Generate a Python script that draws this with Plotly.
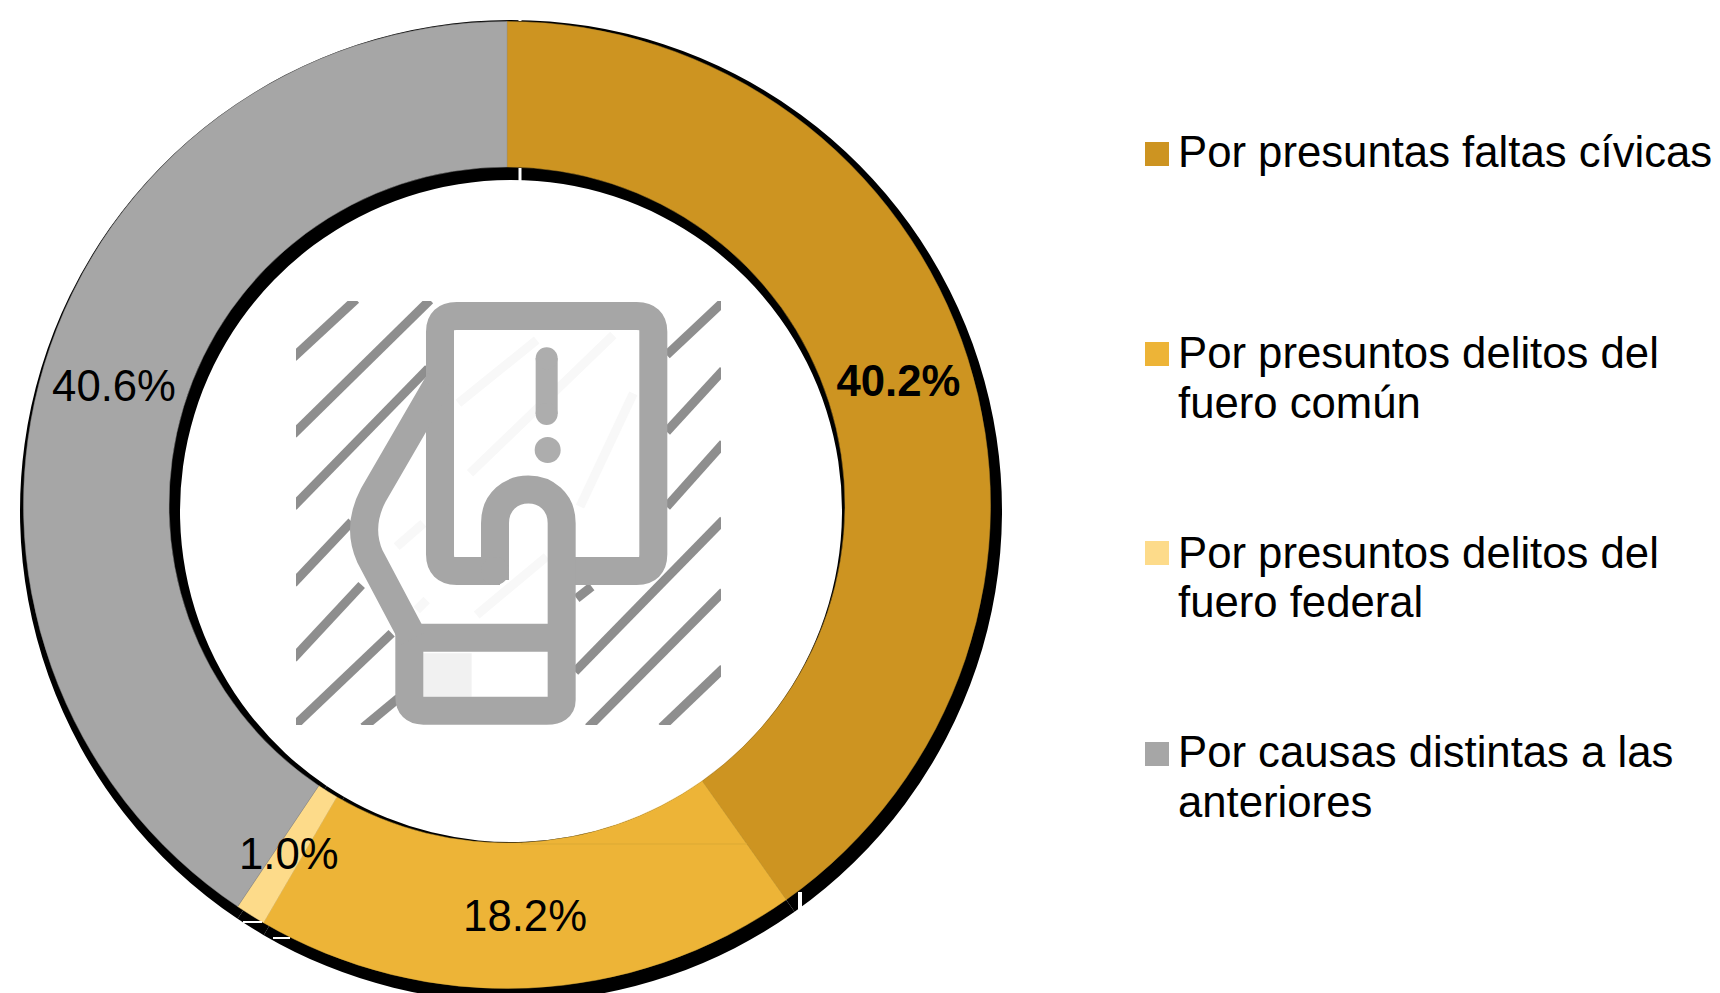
import math

import plotly.graph_objects as go

categorias = [
    "Por presuntas faltas cívicas",
    "Por presuntos delitos del fuero común",
    "Por presuntos delitos del fuero federal",
    "Por causas distintas a las anteriores",
]
valores = [40.2, 18.2, 1.0, 40.6]
colores = ["#cd9421", "#edb437", "#fddb8a", "#a6a6a6"]
bordes = ["#b98a2b", "#dcaa36", "#fddb8a", "#8f8f8f"]
leyenda = [
    ["Por presuntas faltas cívicas"],
    ["Por presuntos delitos del", "fuero común"],
    ["Por presuntos delitos del", "fuero federal"],
    ["Por causas distintas a las", "anteriores"],
]
leyenda_y = [[151], [352, 403], [552, 601], [751, 801]]
cuadro_y = [154, 354, 553, 754]

W, H = 1720, 1020
FUENTE = "Liberation Sans, Arial, sans-serif"
GRIS = "#a6a6a6"
CX, CY, R, R_IN = 507, 505, 483.5, 338


def fx(x):
    return x / W


def fy(y):
    return 1 - y / H


def dominio(cx, cy, r):
    return dict(x=[fx(cx - r), fx(cx + r)], y=[fy(cy + r), fy(cy - r)])


# el icono se trazo sobre un recorte 3x de la imagen
def icono_path(puntos):
    out = []
    for cmd, *coords in puntos:
        vals = []
        for i in range(0, len(coords), 2):
            vals.append(f"{fx(280 + coords[i] / 3):.5f},{fy(290 + coords[i + 1] / 3):.5f}")
        out.append(cmd + " " + " ".join(vals))
    return " ".join(out)


def trazo(puntos, color=GRIS, ancho=28):
    return dict(
        type="path",
        xref="paper",
        yref="paper",
        path=icono_path(puntos),
        line=dict(color=color, width=ancho),
        fillcolor="rgba(0,0,0,0)",
        layer="above",
    )


def linea(x0, y0, x1, y1, color, ancho):
    return dict(
        type="line",
        xref="paper",
        yref="paper",
        x0=fx(x0),
        y0=fy(y0),
        x1=fx(x1),
        y1=fy(y1),
        line=dict(color=color, width=ancho),
        layer="above",
    )


def caja(x0, y0, x1, y1, color):
    return dict(
        type="rect",
        xref="paper",
        yref="paper",
        x0=fx(x0),
        y0=fy(y0),
        x1=fx(x1),
        y1=fy(y1),
        fillcolor=color,
        line=dict(width=0),
        layer="above",
    )


def punto(zx, zy, r, color):
    x, y = 280 + zx / 3, 290 + zy / 3
    return dict(
        type="circle",
        xref="paper",
        yref="paper",
        x0=fx(x - r),
        y0=fy(y + r),
        x1=fx(x + r),
        y1=fy(y - r),
        fillcolor=color,
        line=dict(width=0),
        layer="above",
    )


def zlinea(a, b, c, d, color="#8e8e8e", ancho=9):
    return linea(280 + a / 3, 290 + b / 3, 280 + c / 3, 290 + d / 3, color, ancho)


fig = go.Figure()

# anillo negro desplazado que asoma detras de la dona
fig.add_trace(
    go.Pie(
        values=valores,
        sort=False,
        direction="clockwise",
        hole=331 / 491,
        domain=dominio(511, 511, 491),
        marker=dict(colors=["#000000"] * 4, line=dict(width=0)),
        textinfo="none",
        hoverinfo="skip",
        showlegend=False,
    )
)

etiquetas = [f"{v:.1f}%" for v in valores]
etiqueta_chica = etiquetas[2]
etiquetas[0] = f"<b>{etiquetas[0]}</b>"
etiquetas[2] = ""  # plotly la saca de su sitio; va como anotacion

fig.add_trace(
    go.Pie(
        labels=categorias,
        values=valores,
        sort=False,
        direction="clockwise",
        hole=R_IN / R,
        domain=dominio(CX, CY, R),
        marker=dict(colors=colores, line=dict(color=bordes, width=0.5)),
        text=etiquetas,
        textinfo="text",
        textposition="inside",
        insidetextorientation="horizontal",
        textfont=dict(family=FUENTE, size=43.7, color="#000000"),
        showlegend=False,
    )
)

formas = [
    # cortes blancos del anillo negro
    linea(520, 14, 520, 21, "#ffffff", 3),
    linea(520, 168, 520, 184, "#ffffff", 3),
    linea(800, 892, 800, 910, "#ffffff", 4),
    linea(243, 922, 262, 922, "#ffffff", 2),
    linea(273, 938, 290, 938, "#ffffff", 2),
    # linea fina en el segmento amarillo
    linea(521, 844, 747, 844, "#dba935", 1),
]

# rayas del fondo del icono
rayas = [
    (40, 202, 228, 28),
    (40, 433, 450, 30),
    (40, 650, 445, 235),
    (40, 880, 215, 695),
    (40, 1105, 245, 885),
    (40, 1310, 335, 1030),
    (250, 1312, 355, 1225),
    (1160, 195, 1330, 35),
    (1160, 425, 1330, 240),
    (1160, 650, 1330, 460),
    (885, 1145, 1330, 690),
    (925, 1312, 1330, 905),
    (1145, 1312, 1330, 1135),
    (890, 925, 935, 890),
]
formas += [zlinea(*r) for r in rayas]

# rayas apenas visibles dentro de la tarjeta
rayas_claras = [
    (535, 340, 770, 150),
    (570, 550, 1000, 135),
    (900, 650, 1060, 310),
    (350, 770, 430, 700),
    (410, 960, 440, 930),
    (590, 975, 800, 800),
]
formas += [zlinea(*r, color="#f8f8f8") for r in rayas_claras]
formas.append(caja(280 + 430 / 3, 290 + 1090 / 3, 280 + 575 / 3, 290 + 1220 / 3, "#f1f1f1"))

# tarjeta, dedo y puno
formas += [
    trazo(
        [
            ("M", 660, 843),
            ("L", 530, 843),
            ("Q", 480, 843, 480, 793),
            ("L", 480, 125),
            ("Q", 480, 78, 530, 78),
            ("L", 1070, 78),
            ("Q", 1120, 78, 1120, 125),
            ("L", 1120, 793),
            ("Q", 1120, 843, 1070, 843),
            ("L", 845, 843),
        ]
    ),
    trazo(
        [
            ("M", 645, 870),
            ("L", 645, 700),
            ("C", 645, 565, 845, 565, 845, 700),
            ("L", 845, 1230),
            ("Q", 845, 1262, 800, 1262),
            ("L", 430, 1262),
            ("Q", 388, 1262, 388, 1220),
            ("L", 388, 1043),
            ("L", 845, 1043),
        ]
    ),
    trazo(
        [
            ("M", 480, 270),
            ("L", 280, 615),
            ("Q", 230, 710, 270, 800),
            ("L", 400, 1045),
        ]
    ),
    punto(645, 843, 14, GRIS),
    trazo([("M", 800, 205), ("L", 800, 372)], color="#adadad", ancho=22),
    punto(800, 205, 11, "#adadad"),
    punto(800, 372, 11, "#adadad"),
    punto(803, 480, 13, "#adadad"),
]

# marco blanco que recorta el icono a su cuadro
formas += [
    caja(282, 288, 296, 740, "#ffffff"),
    caja(721, 288, 735, 740, "#ffffff"),
    caja(282, 288, 735, 301, "#ffffff"),
    caja(282, 725, 735, 740, "#ffffff"),
]

# leyenda a mano: los renglones van mas juntos de lo que permite la nativa
for color, yc in zip(colores, cuadro_y):
    formas.append(caja(1145, yc - 12, 1169, yc + 12, color))

anotaciones = []
for renglones, ys in zip(leyenda, leyenda_y):
    for texto, y in zip(renglones, ys):
        anotaciones.append(
            dict(
                text=texto,
                xref="paper",
                yref="paper",
                x=fx(1176),
                y=fy(y),
                xanchor="left",
                yanchor="middle",
                showarrow=False,
                font=dict(family=FUENTE, size=43.7, color="#000000"),
            )
        )

# etiqueta del 1.0% en el centro de su porcion
angulo = 2 * math.pi * (sum(valores[:2]) + valores[2] / 2) / sum(valores)
r_medio = (R + R_IN) / 2
anotaciones.append(
    dict(
        text=etiqueta_chica,
        xref="paper",
        yref="paper",
        x=fx(CX + r_medio * math.sin(angulo)),
        y=fy(CY - r_medio * math.cos(angulo)),
        xanchor="center",
        yanchor="middle",
        showarrow=False,
        font=dict(family=FUENTE, size=43.7, color="#000000"),
    )
)

fig.update_layout(
    width=W,
    height=H,
    margin=dict(l=0, r=0, t=0, b=0),
    paper_bgcolor="#ffffff",
    plot_bgcolor="#ffffff",
    shapes=formas,
    annotations=anotaciones,
    uniformtext=dict(minsize=43.7, mode="show"),
    showlegend=False,
)

fig.write_html(
    "out.html",
    config=dict(displayModeBar=False),
    post_script="document.body.style.margin='0';document.documentElement.style.overflow='hidden';document.body.style.overflow='hidden';",
)
